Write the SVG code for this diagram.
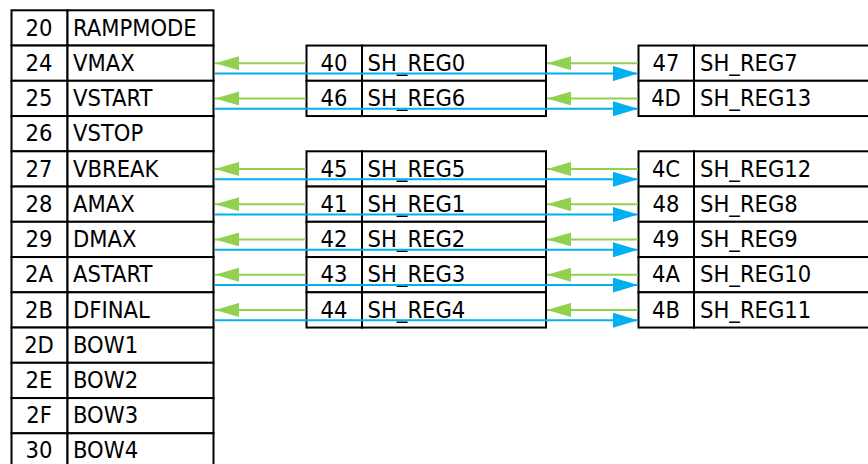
<svg xmlns="http://www.w3.org/2000/svg" width="868" height="464" viewBox="0 0 868 464">
<defs>
<style>
.c{fill:#fff;stroke:#000;stroke-width:2}
.t{font-family:"DejaVu Sans Condensed","Noto Sans",sans-serif;font-size:23.5px;fill:#000}
.n{text-anchor:middle}
.g{stroke:#92D050;stroke-width:2;fill:none;marker-end:url(#ag)}
.b{stroke:#00B0F0;stroke-width:2;fill:none;marker-end:url(#ab)}
</style>
<marker id="ag" markerUnits="userSpaceOnUse" markerWidth="24" markerHeight="14" refX="24" refY="7" orient="auto"><path d="M0,0 L24,7 L0,14 z" fill="#92D050"/></marker>
<marker id="ab" markerUnits="userSpaceOnUse" markerWidth="25" markerHeight="15" refX="25" refY="7.5" orient="auto"><path d="M0,0 L25,7.5 L0,15 z" fill="#00B0F0"/></marker>
</defs>
<rect width="868" height="464" fill="#fff"/>
<g id="left-table">
<g id="r20"><rect class="c" x="11.5" y="10.3" width="56" height="35.25"/><rect class="c" x="67.5" y="10.3" width="146" height="35.25"/><text class="t n" x="39" y="35.6">20</text><text class="t" x="73" y="35.6">RAMPMODE</text></g>
<g id="r24"><rect class="c" x="11.5" y="45.55" width="56" height="35.25"/><rect class="c" x="67.5" y="45.55" width="146" height="35.25"/><text class="t n" x="39" y="70.8">24</text><text class="t" x="73" y="70.8">VMAX</text></g>
<g id="r25"><rect class="c" x="11.5" y="80.8" width="56" height="35.25"/><rect class="c" x="67.5" y="80.8" width="146" height="35.25"/><text class="t n" x="39" y="106">25</text><text class="t" x="73" y="106">VSTART</text></g>
<g id="r26"><rect class="c" x="11.5" y="116.05" width="56" height="35.25"/><rect class="c" x="67.5" y="116.05" width="146" height="35.25"/><text class="t n" x="39" y="141.3">26</text><text class="t" x="73" y="141.3">VSTOP</text></g>
<g id="r27"><rect class="c" x="11.5" y="151.3" width="56" height="35.25"/><rect class="c" x="67.5" y="151.3" width="146" height="35.25"/><text class="t n" x="39" y="176.5">27</text><text class="t" x="73" y="176.5">VBREAK</text></g>
<g id="r28"><rect class="c" x="11.5" y="186.55" width="56" height="35.25"/><rect class="c" x="67.5" y="186.55" width="146" height="35.25"/><text class="t n" x="39" y="211.8">28</text><text class="t" x="73" y="211.8">AMAX</text></g>
<g id="r29"><rect class="c" x="11.5" y="221.8" width="56" height="35.25"/><rect class="c" x="67.5" y="221.8" width="146" height="35.25"/><text class="t n" x="39" y="247">29</text><text class="t" x="73" y="247">DMAX</text></g>
<g id="r2A"><rect class="c" x="11.5" y="257.05" width="56" height="35.25"/><rect class="c" x="67.5" y="257.05" width="146" height="35.25"/><text class="t n" x="39" y="282.3">2A</text><text class="t" x="73" y="282.3">ASTART</text></g>
<g id="r2B"><rect class="c" x="11.5" y="292.3" width="56" height="35.25"/><rect class="c" x="67.5" y="292.3" width="146" height="35.25"/><text class="t n" x="39" y="317.5">2B</text><text class="t" x="73" y="317.5">DFINAL</text></g>
<g id="r2D"><rect class="c" x="11.5" y="327.55" width="56" height="35.25"/><rect class="c" x="67.5" y="327.55" width="146" height="35.25"/><text class="t n" x="39" y="352.8">2D</text><text class="t" x="73" y="352.8">BOW1</text></g>
<g id="r2E"><rect class="c" x="11.5" y="362.8" width="56" height="35.25"/><rect class="c" x="67.5" y="362.8" width="146" height="35.25"/><text class="t n" x="39" y="388">2E</text><text class="t" x="73" y="388">BOW2</text></g>
<g id="r2F"><rect class="c" x="11.5" y="398.05" width="56" height="35.25"/><rect class="c" x="67.5" y="398.05" width="146" height="35.25"/><text class="t n" x="39" y="423.3">2F</text><text class="t" x="73" y="423.3">BOW3</text></g>
<g id="r30"><rect class="c" x="11.5" y="433.3" width="56" height="35.25"/><rect class="c" x="67.5" y="433.3" width="146" height="35.25"/><text class="t n" x="39" y="457.5">30</text><text class="t" x="73" y="457.5">BOW4</text></g>
</g>
<g id="middle-table">
<g id="r40"><rect class="c" x="306.5" y="45.55" width="55.5" height="35.25"/><rect class="c" x="362" y="45.55" width="184" height="35.25"/><text class="t n" x="334" y="70.8">40</text><text class="t" x="367.5" y="70.8">SH_REG0</text></g>
<g id="r46"><rect class="c" x="306.5" y="80.8" width="55.5" height="35.25"/><rect class="c" x="362" y="80.8" width="184" height="35.25"/><text class="t n" x="334" y="106">46</text><text class="t" x="367.5" y="106">SH_REG6</text></g>
<g id="r45"><rect class="c" x="306.5" y="151.3" width="55.5" height="35.25"/><rect class="c" x="362" y="151.3" width="184" height="35.25"/><text class="t n" x="334" y="176.5">45</text><text class="t" x="367.5" y="176.5">SH_REG5</text></g>
<g id="r41"><rect class="c" x="306.5" y="186.55" width="55.5" height="35.25"/><rect class="c" x="362" y="186.55" width="184" height="35.25"/><text class="t n" x="334" y="211.8">41</text><text class="t" x="367.5" y="211.8">SH_REG1</text></g>
<g id="r42"><rect class="c" x="306.5" y="221.8" width="55.5" height="35.25"/><rect class="c" x="362" y="221.8" width="184" height="35.25"/><text class="t n" x="334" y="247">42</text><text class="t" x="367.5" y="247">SH_REG2</text></g>
<g id="r43"><rect class="c" x="306.5" y="257.05" width="55.5" height="35.25"/><rect class="c" x="362" y="257.05" width="184" height="35.25"/><text class="t n" x="334" y="282.3">43</text><text class="t" x="367.5" y="282.3">SH_REG3</text></g>
<g id="r44"><rect class="c" x="306.5" y="292.3" width="55.5" height="35.25"/><rect class="c" x="362" y="292.3" width="184" height="35.25"/><text class="t n" x="334" y="317.5">44</text><text class="t" x="367.5" y="317.5">SH_REG4</text></g>
</g>
<g id="right-table">
<g id="r47"><rect class="c" x="638.5" y="45.55" width="55.5" height="35.25"/><rect class="c" x="694" y="45.55" width="190" height="35.25"/><text class="t n" x="666" y="70.8">47</text><text class="t" x="700" y="70.8">SH_REG7</text></g>
<g id="r4D"><rect class="c" x="638.5" y="80.8" width="55.5" height="35.25"/><rect class="c" x="694" y="80.8" width="190" height="35.25"/><text class="t n" x="666" y="106">4D</text><text class="t" x="700" y="106">SH_REG13</text></g>
<g id="r4C"><rect class="c" x="638.5" y="151.3" width="55.5" height="35.25"/><rect class="c" x="694" y="151.3" width="190" height="35.25"/><text class="t n" x="666" y="176.5">4C</text><text class="t" x="700" y="176.5">SH_REG12</text></g>
<g id="r48"><rect class="c" x="638.5" y="186.55" width="55.5" height="35.25"/><rect class="c" x="694" y="186.55" width="190" height="35.25"/><text class="t n" x="666" y="211.8">48</text><text class="t" x="700" y="211.8">SH_REG8</text></g>
<g id="r49"><rect class="c" x="638.5" y="221.8" width="55.5" height="35.25"/><rect class="c" x="694" y="221.8" width="190" height="35.25"/><text class="t n" x="666" y="247">49</text><text class="t" x="700" y="247">SH_REG9</text></g>
<g id="r4A"><rect class="c" x="638.5" y="257.05" width="55.5" height="35.25"/><rect class="c" x="694" y="257.05" width="190" height="35.25"/><text class="t n" x="666" y="282.3">4A</text><text class="t" x="700" y="282.3">SH_REG10</text></g>
<g id="r4B"><rect class="c" x="638.5" y="292.3" width="55.5" height="35.25"/><rect class="c" x="694" y="292.3" width="190" height="35.25"/><text class="t n" x="666" y="317.5">4B</text><text class="t" x="700" y="317.5">SH_REG11</text></g>
</g>
<g id="connectors">
<line class="g" x1="306" y1="63.2" x2="215" y2="63.2"/><line class="g" x1="638" y1="63.2" x2="547" y2="63.2"/><line class="b" x1="215" y1="73.6" x2="638" y2="73.6"/>
<line class="g" x1="306" y1="98.4" x2="215" y2="98.4"/><line class="g" x1="638" y1="98.4" x2="547" y2="98.4"/><line class="b" x1="215" y1="108.8" x2="638" y2="108.8"/>
<line class="g" x1="306" y1="168.9" x2="215" y2="168.9"/><line class="g" x1="638" y1="168.9" x2="547" y2="168.9"/><line class="b" x1="215" y1="179.3" x2="638" y2="179.3"/>
<line class="g" x1="306" y1="204.2" x2="215" y2="204.2"/><line class="g" x1="638" y1="204.2" x2="547" y2="204.2"/><line class="b" x1="215" y1="214.6" x2="638" y2="214.6"/>
<line class="g" x1="306" y1="239.4" x2="215" y2="239.4"/><line class="g" x1="638" y1="239.4" x2="547" y2="239.4"/><line class="b" x1="215" y1="249.8" x2="638" y2="249.8"/>
<line class="g" x1="306" y1="274.7" x2="215" y2="274.7"/><line class="g" x1="638" y1="274.7" x2="547" y2="274.7"/><line class="b" x1="215" y1="285.1" x2="638" y2="285.1"/>
<line class="g" x1="306" y1="309.9" x2="215" y2="309.9"/><line class="g" x1="638" y1="309.9" x2="547" y2="309.9"/><line class="b" x1="215" y1="320.3" x2="638" y2="320.3"/>
</g>
</svg>
